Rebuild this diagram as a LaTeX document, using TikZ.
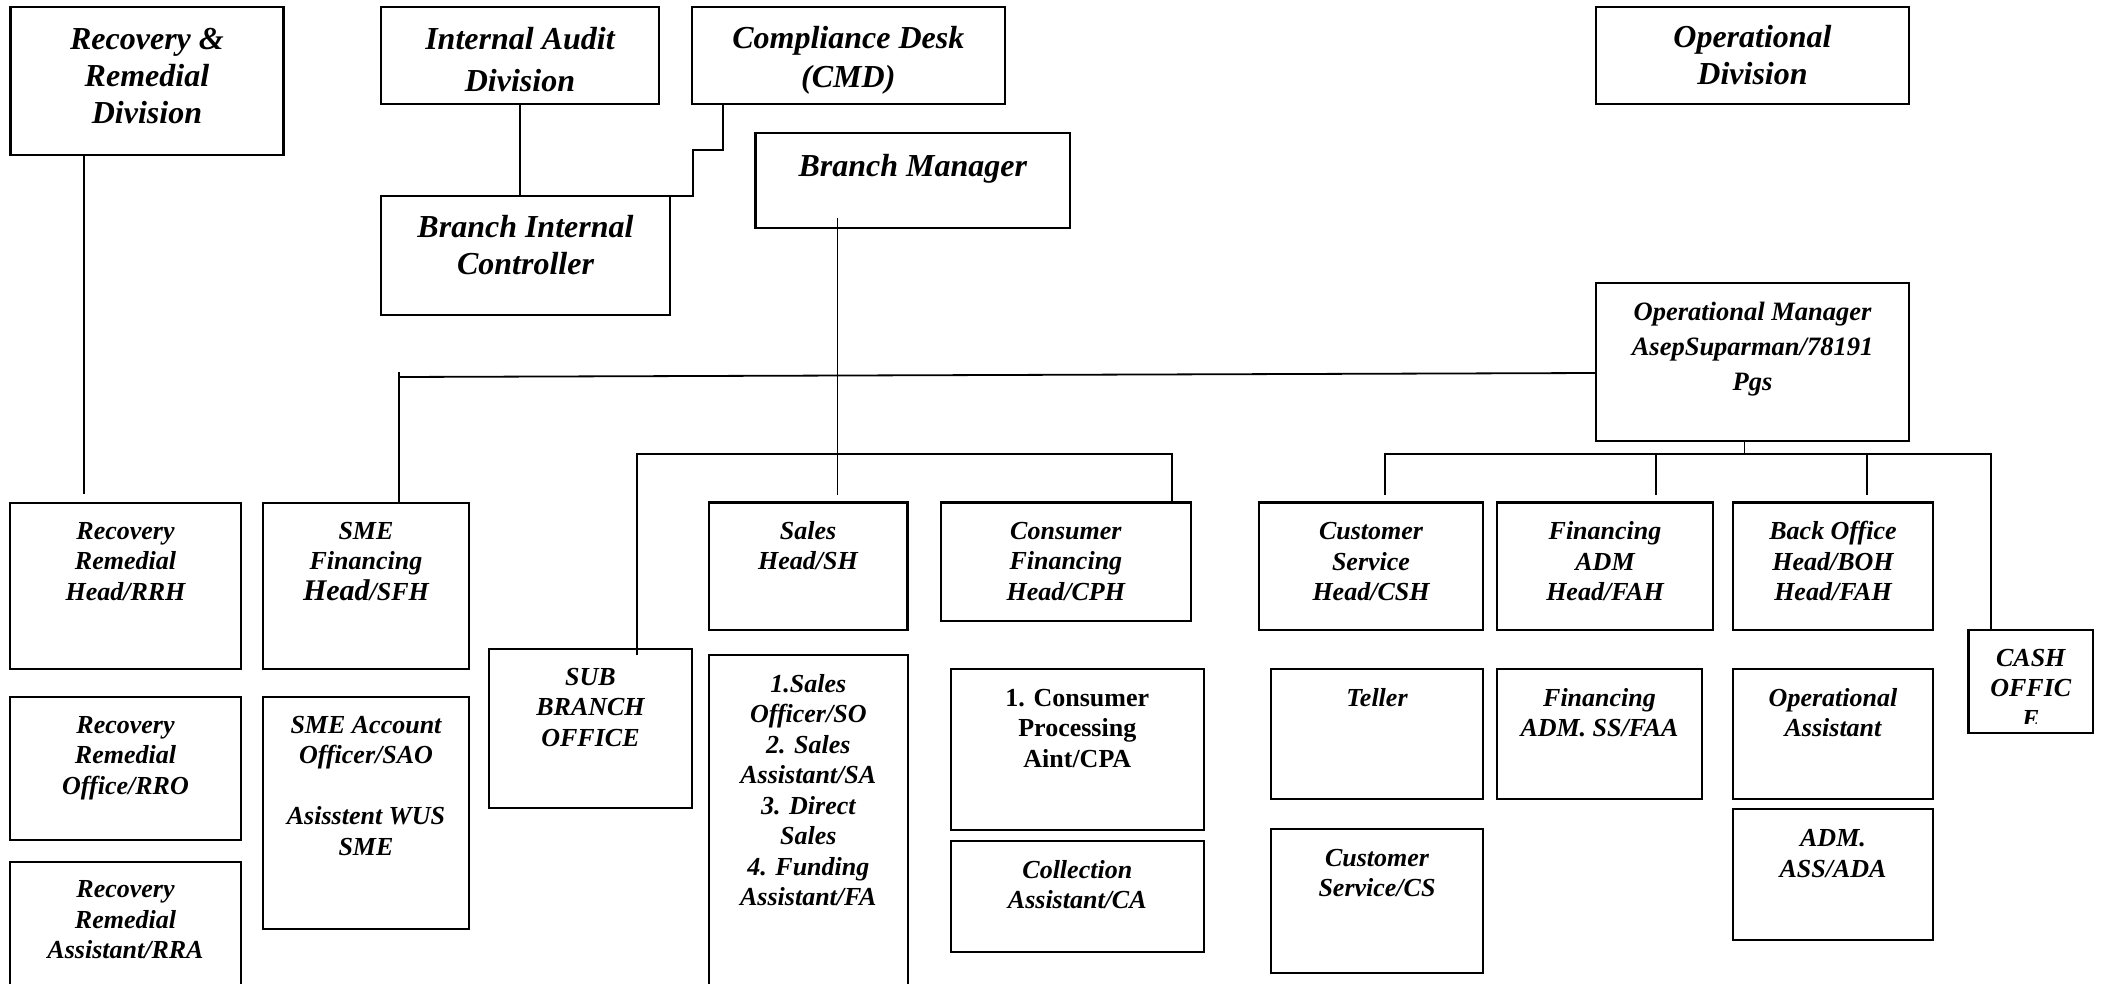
\documentclass[tikz,border=0pt]{standalone}
\usepackage{fontspec}
\setmainfont{Liberation Serif}
\usetikzlibrary{calc}
\newcommand\pb[5]{\parbox[t][#2pt][t]{#1pt}{#4\centering\rule{0pt}{#3pt}#5\par}}
\newcommand\ftr{\fontsize{26}{30.5}\selectfont\bfseries\itshape}
\newcommand\ftb{\fontsize{26}{30.5}\selectfont\bfseries}
\newcommand\ftt[1]{\fontsize{32}{#1}\selectfont\bfseries\itshape}
\begin{document}
\begin{tikzpicture}[x=1pt,y=-1pt,
  ob/.style={draw, line width=2.2pt, inner sep=0pt, outer sep=0pt, anchor=north west},
  cn/.style={line width=1.8pt}]
\useasboundingbox (0,0) rectangle (2107,984);
\fill[white] (0,0) rectangle (2107,984);
% top row
\node[ob] (RRD) at (10.5,6.7) {\pb{272.9}{148.3}{42.8}{\ftt{37}}{Recovery \&\\Remedial\\Division}};
\node[ob] (IAD) at (381,6.7) {\pb{278}{97.3}{42.8}{\ftt{41.7}}{Internal Audit\\Division}};
\node[ob] (CD) at (692,6.7) {\pb{312.6}{97.3}{41.8}{\ftt{38.7}}{Compliance Desk\\(CMD)}};
\node[ob] (OD) at (1596,6.7) {\pb{313}{97.3}{41.2}{\ftt{36.7}}{Operational\\Division}};
\node[ob] (BM) at (755.5,132.7) {\pb{314.5}{95.3}{43.5}{\ftt{37}}{Branch Manager}};
\node[ob] (BIC) at (381,196) {\pb{289}{119}{41.9}{\ftt{36.7}}{Branch Internal\\Controller}};
\node[ob] (OM) at (1596,282.7) {\pb{313}{158.3}{38.3}{\fontsize{26.5}{35}\selectfont\bfseries\itshape}{Operational Manager\\AsepSuparman/78191\\Pgs}};
% left columns
\node[ob] (RRH) at (10,502.7) {\pb{231}{166}{36.4}{\ftr}{Recovery\\Remedial\\Head/RRH}};
\node[ob] (SFH) at (263,502.7) {\pb{206}{166}{36.4}{\ftr}{SME\\Financing\\{\fontsize{30}{30.5}\selectfont Head}/SFH}};
\node[ob] (RRO) at (10,697) {\pb{231}{143}{36.1}{\ftr}{Recovery\\Remedial\\Office/RRO}};
\node[ob] (SAO) at (263,697) {\pb{206}{231.6}{36}{\ftr}{SME Account\\Officer/SAO\\\mbox{}\\Asisstent WUS\\SME}};
\node[ob] (RRA) at (10,861.6) {\pb{231}{140}{36.3}{\ftr}{Recovery\\Remedial\\Assistant/RRA}};
\node[ob] (SUB) at (489,649) {\pb{203}{159}{36}{\ftr}{SUB\\BRANCH\\OFFICE}};
% sales / consumer
\node[ob] (SH) at (708.6,502.5) {\pb{198.9}{127.5}{36.6}{\ftr}{Sales\\Head/SH}};
\node[ob] (SL) at (708.6,655) {\pb{199.4}{345}{37}{\ftr}{1.Sales\\Officer/SO\\2. Sales\\Assistant/SA\\3. Direct\\Sales\\4. Funding\\Assistant/FA}};
\node[ob] (CPH) at (940.7,502.5) {\pb{250.3}{118.5}{36.6}{\ftr}{Consumer\\Financing\\Head/CPH}};
\node[ob] (CPA) at (951,669) {\pb{252.6}{160.6}{37}{\ftb}{1. Consumer\\Processing\\Aint/CPA}};
\node[ob] (CA) at (951,841) {\pb{252.6}{111}{37}{\ftr}{Collection\\Assistant/CA}};
% operational
\node[ob] (CSH) at (1259,502.5) {\pb{224}{127.5}{37}{\ftr}{Customer\\Service\\Head/CSH}};
\node[ob] (FAH) at (1497,502.5) {\pb{216}{127.5}{37}{\ftr}{Financing\\ADM\\Head/FAH}};
\node[ob] (BOH) at (1733,502.5) {\pb{200}{127.5}{37}{\ftr}{Back Office\\Head/BOH\\Head/FAH}};
\node[ob, minimum width=124.5pt, minimum height=103pt] (CASH) at (1968.5,630) {};
\begin{scope}
  \clip (1968.5,630) rectangle (2093,723);
  \node[anchor=north, inner sep=0pt] (CASHt) at (CASH.north) {\pb{124.5}{103}{36}{\ftr}{CASH\\OFFIC\\E}};
\end{scope}
\node[ob] (TEL) at (1271,669) {\pb{212}{130}{37}{\ftr}{Teller}};
\node[ob] (FAA) at (1497,669) {\pb{205}{130}{37}{\ftr}{Financing\\ADM. SS/FAA}};
\node[ob] (OA) at (1733,669) {\pb{200}{130}{37}{\ftr}{Operational\\Assistant}};
\node[ob] (CS) at (1271,829) {\pb{212}{144}{37}{\ftr}{Customer\\Service/CS}};
\node[ob] (ADA) at (1733,809) {\pb{200}{131}{37.7}{\ftr}{ADM.\\ASS/ADA}};
% connectors
\coordinate (rrdEnd) at (84,494);
\draw[cn] (rrdEnd |- RRD.south) -- (rrdEnd);
\draw[cn] (IAD.south) -- (IAD.south |- BIC.north);
\coordinate (cdA) at (722.6,104);
\coordinate (cdB) at (693,150);
\draw[cn] (cdA |- CD.south) |- (cdB) |- (BIC.north east);
\coordinate (bmTop) at (837.5,218);
\coordinate (bmBot) at (837.5,494.5);
\draw[cn] (bmTop) -- (bmBot);
\coordinate (busL) at (637,454);
\coordinate (busR) at (1172,454);
\coordinate (subEnd) at (637,655);
\draw[cn] (subEnd) -- (busL) -- (busR) -- (busR |- CPH.north);
\coordinate (omA) at (1744.5,454);
\draw[cn] (omA |- OM.south) -- (omA);
\coordinate (ob1) at (1385,454);
\coordinate (ob1e) at (1385,494.5);
\coordinate (ob2) at (1656,454);
\coordinate (ob2e) at (1656,494.5);
\coordinate (ob3) at (1867,454);
\coordinate (ob3e) at (1867,494.5);
\coordinate (ob4) at (1991,454);
\draw[cn] (ob1e) -- (ob1) -- (ob4) -- (ob4 |- CASH.north);
\draw[cn] (ob2) -- (ob2e);
\draw[cn] (ob3) -- (ob3e);
\coordinate (omL) at (1596,373);
\coordinate (smeL) at (399,377);
\coordinate (smeTop) at (399,372);
\draw[cn] (omL) -- (smeL);
\draw[cn] (smeTop) -- (smeTop |- SFH.north);
\end{tikzpicture}
\end{document}
